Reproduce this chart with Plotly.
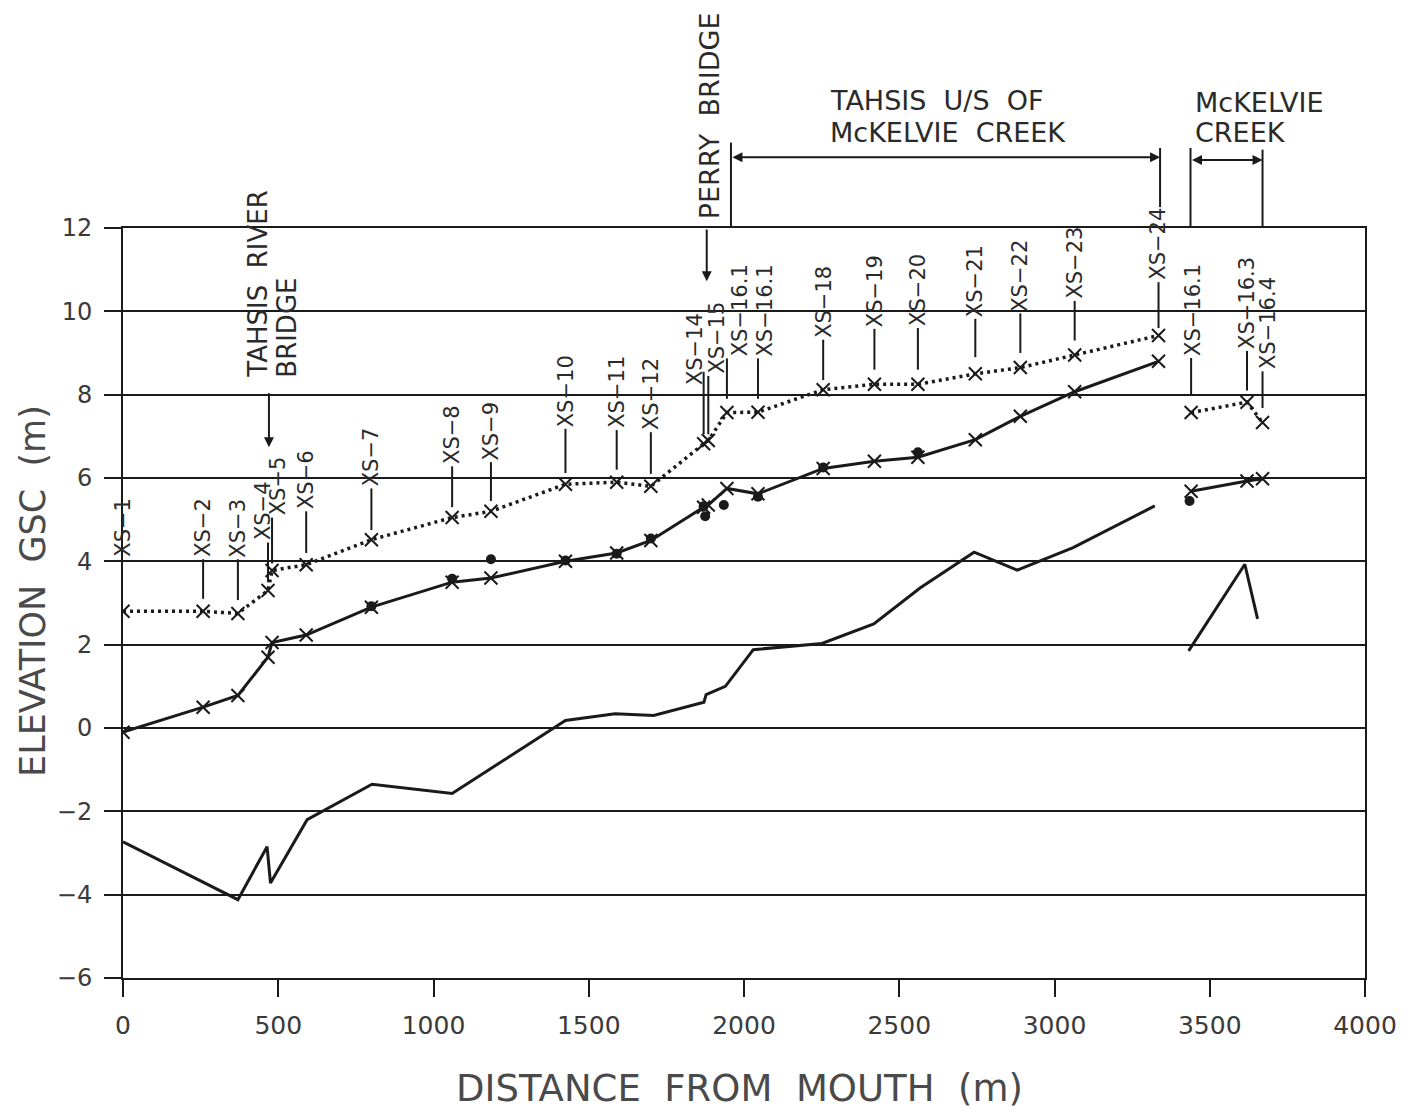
import plotly.graph_objects as go

# ---------------- data ----------------
xs_names = ["XS−1", "XS−2", "XS−3", "XS−4", "XS−5", "XS−6", "XS−7", "XS−8", "XS−9",
            "XS−10", "XS−11", "XS−12", "XS−14", "XS−15", "XS−16.1", "XS−16.1",
            "XS−18", "XS−19", "XS−20", "XS−21", "XS−22", "XS−23", "XS−24"]
xs_dist = [0, 258, 370, 467, 480, 590, 800, 1060, 1185, 1425, 1590, 1700, 1870, 1885,
           1945, 2045, 2255, 2420, 2560, 2745, 2890, 3065, 3335]
flood_wl = [2.8, 2.8, 2.75, 3.3, 3.78, 3.92, 4.52, 5.05, 5.2, 5.85, 5.9, 5.8, 6.82, 6.9,
            7.57, 7.58, 8.12, 8.25, 8.25, 8.5, 8.65, 8.95, 9.42]
low_wl = [-0.1, 0.5, 0.78, 1.7, 2.05, 2.23, 2.9, 3.5, 3.6, 4.0, 4.2, 4.5, 5.3, 5.35,
          5.75, 5.62, 6.23, 6.4, 6.5, 6.92, 7.48, 8.07, 8.8]

mck_names = ["XS−16.1", "XS−16.3", "XS−16.4"]
mck_dist = [3440, 3620, 3670]
mck_flood = [7.57, 7.82, 7.33]
mck_low = [5.68, 5.93, 5.98]

bed_dist = [0, 370, 464, 475, 593, 802, 1060, 1425, 1585, 1709, 1871, 1878, 1940, 2030,
            2251, 2418, 2567, 2741, 2880, 3060, 3323]
bed_elev = [-2.73, -4.12, -2.85, -3.72, -2.2, -1.35, -1.57, 0.18, 0.34, 0.3, 0.62, 0.8,
            1.0, 1.88, 2.03, 2.5, 3.36, 4.22, 3.79, 4.33, 5.33]
mck_bed_dist = [3432, 3613, 3654]
mck_bed_elev = [1.85, 3.93, 2.62]

obs_dist = [800, 1060, 1185, 1425, 1590, 1700, 1870, 1875, 1935, 2045, 2255, 2560, 3435]
obs_elev = [2.92, 3.58, 4.05, 4.02, 4.18, 4.55, 5.32, 5.08, 5.35, 5.55, 6.25, 6.62, 5.45]

x_ticks = [0, 500, 1000, 1500, 2000, 2500, 3000, 3500, 4000]
y_ticks = [-6, -4, -2, 0, 2, 4, 6, 8, 10, 12]

# ---------------- label layout (leader line bottom/top, text x, text bottom) ----------------
main_label_pos = [
    (None, None, 0, 4.05), (3.1, 4.05, 258, 4.05), (3.07, 4.05, 370, 4.05),
    (3.5, 4.45, 451, 4.45), (3.95, 5.05, 500, 5.05), (4.2, 5.2, 590, 5.2),
    (4.75, 5.75, 800, 5.75), (5.3, 6.28, 1060, 6.28), (5.45, 6.38, 1185, 6.38),
    (6.12, 7.18, 1425, 7.18), (6.2, 7.15, 1590, 7.15), (6.1, 7.1, 1700, 7.1),
    (7.05, 8.55, 1842, 8.18), (7.05, 8.45, 1912, 8.45), (7.9, 8.87, 1990, 8.87),
    (7.9, 8.87, 2068, 8.87), (8.35, 9.32, 2255, 9.32), (8.6, 9.58, 2420, 9.58),
    (8.6, 9.6, 2560, 9.6), (8.9, 9.82, 2745, 9.82), (9.0, 9.95, 2890, 9.95),
    (9.3, 10.25, 3065, 10.25), (9.6, 10.7, 3335, 10.7),
]
mck_label_pos = [(8.0, 8.88, 3446, 8.88), (8.1, 9.05, 3620, 9.05), (7.68, 8.56, 3690, 8.56)]

LINE = "#1a1a1a"
TXT = "#2a2a2a"
FONT = "DejaVu Sans"


def ep(v):
    """elevation -> paper y"""
    return (v + 6.0) / 18.0


def dp(d):
    """distance -> paper x"""
    return d / 4000.0


fig = go.Figure()

# bed profile
fig.add_trace(go.Scatter(x=bed_dist, y=bed_elev, mode="lines",
                         line=dict(color=LINE, width=3), hoverinfo="skip"))
fig.add_trace(go.Scatter(x=mck_bed_dist, y=mck_bed_elev, mode="lines",
                         line=dict(color=LINE, width=3), hoverinfo="skip"))

xmark = dict(symbol="x-thin", size=13, color=LINE, line=dict(width=2, color=LINE))
# solid water surface
fig.add_trace(go.Scatter(x=xs_dist, y=low_wl, mode="lines+markers",
                         line=dict(color=LINE, width=3), marker=xmark))
fig.add_trace(go.Scatter(x=mck_dist, y=mck_low, mode="lines+markers",
                         line=dict(color=LINE, width=3), marker=xmark))
# dotted water surface
fig.add_trace(go.Scatter(x=xs_dist, y=flood_wl, mode="lines+markers",
                         line=dict(color=LINE, width=3.5, dash="3px,4px"), marker=xmark))
fig.add_trace(go.Scatter(x=mck_dist, y=mck_flood, mode="lines+markers",
                         line=dict(color=LINE, width=3.5, dash="3px,4px"), marker=xmark))
# observed points
fig.add_trace(go.Scatter(x=obs_dist, y=obs_elev, mode="markers",
                         marker=dict(symbol="circle", size=10, color=LINE)))

shapes = []
annotations = []


def add_labels(names, dists, pos):
    for name, d, (lo, hi, tx, ty) in zip(names, dists, pos):
        if lo is not None:
            shapes.append(dict(type="line", xref="x", yref="y", x0=d, x1=d, y0=lo, y1=hi,
                               line=dict(color=LINE, width=2)))
        annotations.append(dict(x=tx, y=ty, xref="x", yref="y", text=name, showarrow=False,
                                textangle=-90, xanchor="center", yanchor="bottom",
                                font=dict(family=FONT, size=21, color=TXT)))


add_labels(xs_names, xs_dist, main_label_pos)
add_labels(mck_names, mck_dist, mck_label_pos)

# bridge labels
big = dict(family=FONT, size=26, color=TXT)
annotations.append(dict(x=432, y=8.35, xref="x", yref="y", text="TAHSIS\u00a0\u00a0RIVER",
                        showarrow=False, textangle=-90, xanchor="center", yanchor="bottom", font=big))
annotations.append(dict(x=527, y=8.35, xref="x", yref="y", text="BRIDGE",
                        showarrow=False, textangle=-90, xanchor="center", yanchor="bottom", font=big))
annotations.append(dict(x=470, y=6.74, xref="x", yref="y", ax=470, ay=8.07, axref="x", ayref="y",
                        text="", showarrow=True, arrowhead=2, arrowsize=1, arrowwidth=2,
                        arrowcolor=LINE, standoff=0, startstandoff=0))

annotations.append(dict(x=1890, y=ep(12.17), xref="x", yref="paper", text="PERRY\u00a0\u00a0BRIDGE",
                        showarrow=False, textangle=-90, xanchor="center", yanchor="bottom",
                        font=dict(family=FONT, size=27, color=TXT)))
annotations.append(dict(x=1880, y=10.72, xref="x", yref="y", ax=1880, ay=12.0, axref="x", ayref="y",
                        text="", showarrow=True, arrowhead=2, arrowsize=1, arrowwidth=2,
                        arrowcolor=LINE, standoff=0, startstandoff=0))

# reach labels
reach = dict(family=FONT, size=27, color=TXT)
for txt, xx, yy in [("TAHSIS\u00a0\u00a0U/S\u00a0\u00a0OF", 2270, 15.05),
                    ("McKELVIE\u00a0\u00a0CREEK", 2270, 14.3),
                    ("McKELVIE", 3446, 15.0),
                    ("CREEK", 3446, 14.28)]:
    annotations.append(dict(x=xx, y=ep(yy), xref="x", yref="paper", text=txt, showarrow=False,
                            xanchor="left", yanchor="middle", font=reach))

# reach brackets
for xx, y0, y1 in [(1958, 12.0, 14.05), (3340, 12.5, 13.92), (3438, 12.0, 13.92), (3670, 12.0, 13.88)]:
    shapes.append(dict(type="line", xref="paper", yref="paper", x0=dp(xx), x1=dp(xx),
                       y0=ep(y0), y1=ep(y1), line=dict(color=LINE, width=2)))
for xa, xb, yy in [(1958, 3340, 13.7), (3438, 3670, 13.63)]:
    annotations.append(dict(x=xb, y=ep(yy), xref="x", yref="paper", ax=xa, ay=0, axref="x",
                            ayref="pixel", text="", showarrow=True, arrowside="end+start",
                            arrowhead=2, startarrowhead=2, arrowsize=1, startarrowsize=1,
                            arrowwidth=2, arrowcolor=LINE, standoff=0, startstandoff=0))

# axis titles
annotations.append(dict(x=-0.0725, y=0.516, xref="paper", yref="paper", text="ELEVATION\u00a0\u00a0GSC\u00a0\u00a0(m)",
                        showarrow=False, textangle=-90, xanchor="center", yanchor="middle",
                        borderpad=0, borderwidth=0,
                        font=dict(family=FONT, size=35, color="#4a4a4a")))
annotations.append(dict(x=0.496, y=-0.147, xref="paper", yref="paper",
                        text="DISTANCE\u00a0\u00a0FROM\u00a0\u00a0MOUTH\u00a0\u00a0(m)",
                        showarrow=False, xanchor="center", yanchor="middle",
                        font=dict(family=FONT, size=37, color="#4a4a4a")))

# the page body adds an 8 px offset; margins compensate so the plot box lands at 123..1365 x 228..978
fig.update_layout(
    width=1419, height=1116, autosize=False,
    margin=dict(l=115, r=62, t=220, b=146, pad=0),
    paper_bgcolor="white", plot_bgcolor="white",
    showlegend=False, shapes=shapes, annotations=annotations,
)
fig.update_xaxes(range=[0, 4000], tickvals=x_ticks, ticktext=[str(v) for v in x_ticks],
                 ticks="outside", ticklen=17, tickwidth=2, tickcolor=LINE,
                 showline=True, linewidth=2, linecolor=LINE, mirror=True,
                 showgrid=False, zeroline=False, ticklabelstandoff=7,
                 tickfont=dict(family=FONT, size=25, color="#3a3a3a"))
fig.update_yaxes(range=[-6, 12], tickvals=y_ticks,
                 ticks="outside", ticklen=17, tickwidth=2, tickcolor=LINE,
                 showline=True, linewidth=2, linecolor=LINE, mirror=True,
                 showgrid=True, gridcolor=LINE, gridwidth=2, zeroline=False,
                 ticklabelstandoff=7,
                 tickfont=dict(family=FONT, size=24, color="#3a3a3a"))

fig.write_html("out.html")
